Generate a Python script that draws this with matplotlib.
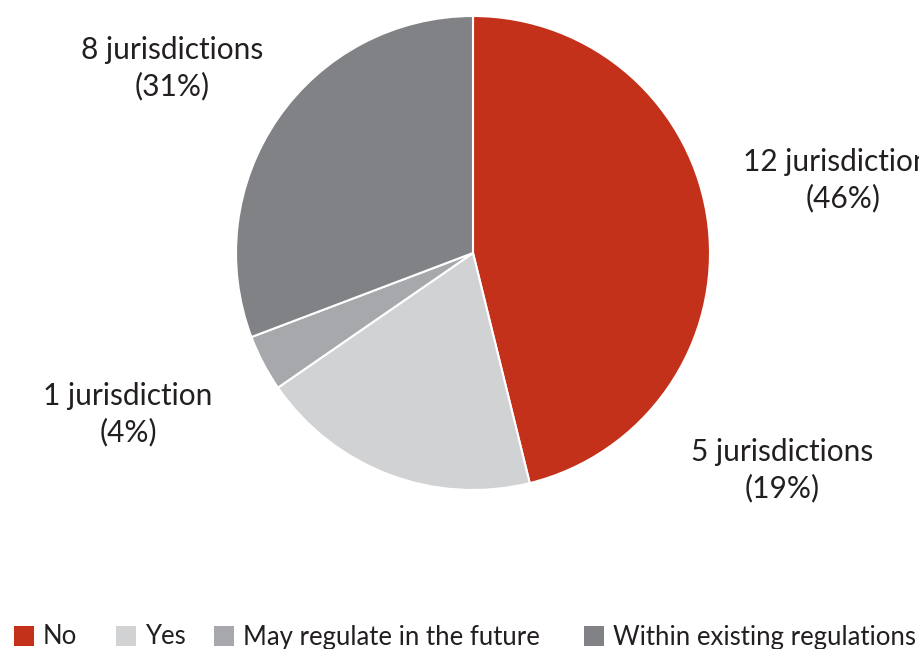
import matplotlib
matplotlib.use("Agg")
import matplotlib.pyplot as plt
from matplotlib.patches import Rectangle

categories = ["No", "Yes", "May regulate in the future", "Within existing regulations"]
counts = [12, 5, 1, 8]
labels = ["12 jurisdictions\n(46%)", "5 jurisdictions\n(19%)", "1 jurisdiction\n(4%)", "8 jurisdictions\n(31%)"]
colors = ["#C4311A", "#D1D2D4", "#A7A8AB", "#808285"]

plt.rcParams['font.family'] = ['Lato', 'DejaVu Sans']

W, H = 920, 649
fig = plt.figure(figsize=(W / 100, H / 100), dpi=100)
cx, cy, r = 473, 253, 237
ax = fig.add_axes([(cx - r) / W, (H - cy - r) / H, 2 * r / W, 2 * r / H])
ax.pie(counts, colors=colors, startangle=90, counterclock=False, radius=1,
       wedgeprops=dict(edgecolor="white", linewidth=1.5))
ax.set_xlim(-1, 1)
ax.set_ylim(-1, 1)
ax.set_aspect("equal")
ax.axis("off")

label_pos = [(843, 180), (782, 470), (128, 414), (172, 68)]
for lab, (x, y) in zip(labels, label_pos):
    fig.text(x / W, 1 - y / H, lab, ha="center", va="center", fontsize=21.5,
             color="#231F20", linespacing=1.35)

leg_x = [14, 116, 214, 584]
for cat, col, x in zip(categories, colors, leg_x):
    fig.patches.append(Rectangle((x / W, 1 - 646 / H), 20 / W, 20 / H,
                                 transform=fig.transFigure, facecolor=col, edgecolor="none"))
    fig.text((x + 29) / W, 1 - 637 / H, cat, ha="left", va="center", fontsize=18.5,
             color="#231F20")

fig.savefig("out.png", dpi=100)
